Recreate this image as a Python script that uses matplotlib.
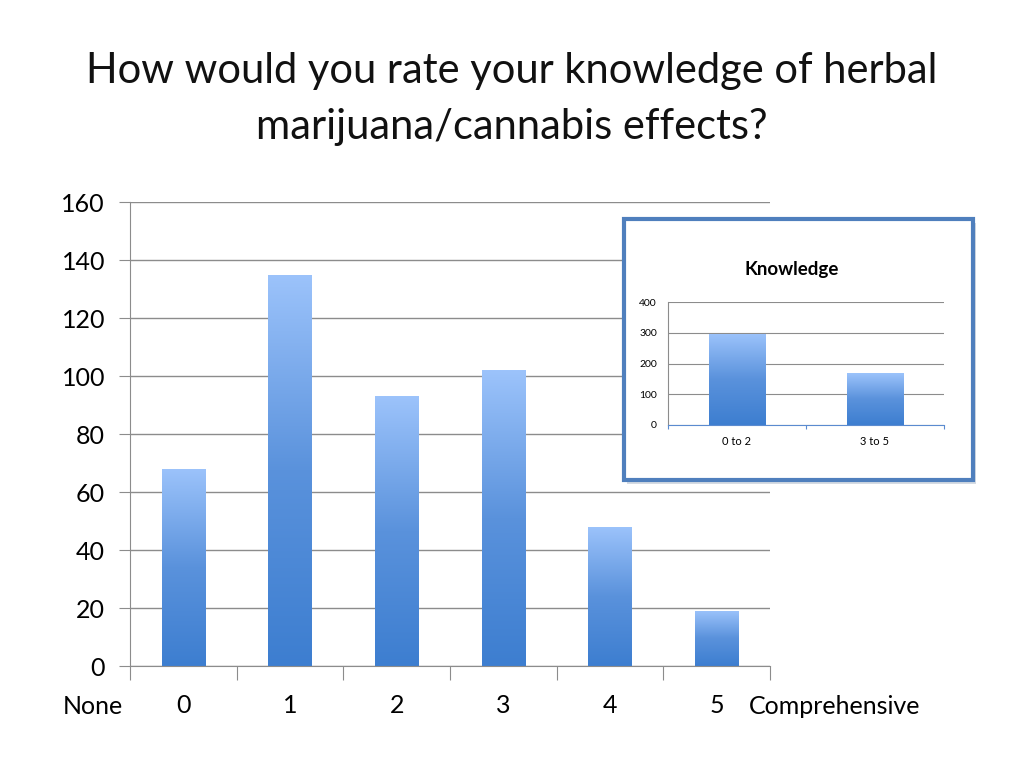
import matplotlib
matplotlib.use("Agg")
import matplotlib.pyplot as plt
import numpy as np
from matplotlib.patches import Rectangle
from matplotlib.colors import LinearSegmentedColormap

plt.rcParams['font.family'] = ['Lato', 'DejaVu Sans']

# Data
ratings = ["0", "1", "2", "3", "4", "5"]
counts = [68, 135, 93, 102, 48, 19]
group_labels = ["0 to 2", "3 to 5"]
group_counts = [296, 169]
main_yticks = [0, 20, 40, 60, 80, 100, 120, 140, 160]
inset_yticks = [0, 100, 200, 300, 400]

title = "How would you rate your knowledge of herbal\nmarijuana/cannabis effects?"

cmap = LinearSegmentedColormap.from_list("bargrad", ["#3d7ed0", "#5a92dc", "#9cc3fb"])
grid_color = "#8c8c8c"


def gradient_bars(ax, bars):
    grad = np.linspace(0, 1, 256).reshape(-1, 1)
    for b in bars:
        x0, y0 = b.get_x(), b.get_y()
        w, h = b.get_width(), b.get_height()
        b.set_facecolor("none")
        b.set_edgecolor("none")
        im = ax.imshow(grad, extent=[x0, x0 + w, y0, y0 + h], origin="lower",
                       cmap=cmap, aspect="auto", zorder=2, interpolation="bilinear")
        im.set_clip_path(b)


fig = plt.figure(figsize=(10.24, 7.68), dpi=100)
fig.patch.set_facecolor("white")

fig.text(0.5, 1 - 99 / 768, title, ha="center", va="center", fontsize=30, color="#111111",
         linespacing=1.55)

# Main axes
ax = fig.add_axes([0.127, 0.1328, 0.625, 0.604], zorder=0)
x = np.arange(len(ratings))
bars = ax.bar(x, counts, width=0.41, zorder=2)
ax.set_xlim(-0.5, len(ratings) - 0.5)
ax.set_ylim(0, 160)
gradient_bars(ax, bars)
ax.set_yticks(main_yticks)
ax.set_yticklabels([str(v) for v in main_yticks], fontsize=18)
ax.yaxis.grid(True, color=grid_color, linewidth=1)
ax.set_axisbelow(True)
ax.set_xticks(np.arange(-0.5, len(ratings), 1.0))
ax.set_xticklabels([])
ax.set_xticks(x, minor=True)
ax.set_xticklabels(ratings, minor=True, fontsize=18)
ax.tick_params(axis="x", which="major", length=10, color=grid_color, direction="out")
ax.tick_params(axis="x", which="minor", length=0, pad=20)
ax.tick_params(axis="y", length=8, color=grid_color, pad=10)
for s in ["top", "right"]:
    ax.spines[s].set_visible(False)
for s in ["left", "bottom"]:
    ax.spines[s].set_color(grid_color)
ax.set_facecolor("none")

fig.text(93 / 1024, 1 - 706 / 768, "None", ha="center", va="center", fontsize=18)
fig.text(835 / 1024, 1 - 706 / 768, "Comprehensive", ha="center", va="center", fontsize=18)

# Inset frame
frame = Rectangle((624 / 1024, 1 - 480 / 768), 349 / 1024, 261 / 768,
                  transform=fig.transFigure, facecolor="white", edgecolor="#4f7fbd",
                  linewidth=3, zorder=1)
shadow = Rectangle((627 / 1024, 1 - 484 / 768), 349 / 1024, 261 / 768,
                   transform=fig.transFigure, facecolor="#d5dbe3", edgecolor="none",
                   zorder=0.9)
fig.patches.append(shadow)
fig.patches.append(frame)

fig.text(792 / 1024, 1 - 270 / 768, "Knowledge", ha="center", va="center",
         fontsize=13.5, fontweight="bold", zorder=3)

ax2 = fig.add_axes([668 / 1024, 1 - 425 / 768, 276 / 1024, 123 / 768], zorder=2)
x2 = np.arange(len(group_labels))
bars2 = ax2.bar(x2, group_counts, width=0.41, zorder=2)
ax2.set_xlim(-0.5, len(group_labels) - 0.5)
ax2.set_ylim(0, 400)
gradient_bars(ax2, bars2)
ax2.set_yticks(inset_yticks)
ax2.set_yticklabels([str(v) for v in inset_yticks], fontsize=7.5)
ax2.yaxis.grid(True, color=grid_color, linewidth=0.8)
ax2.set_axisbelow(True)
ax2.set_xticks(np.arange(-0.5, len(group_labels), 1.0))
ax2.set_xticklabels([])
ax2.set_xticks(x2, minor=True)
ax2.set_xticklabels(group_labels, minor=True, fontsize=8)
ax2.tick_params(axis="x", which="major", length=3, color="#5b8bd0", direction="out")
ax2.tick_params(axis="x", which="minor", length=0, pad=8)
ax2.tick_params(axis="y", length=0, pad=8)
for s in ["top", "right"]:
    ax2.spines[s].set_visible(False)
ax2.spines["left"].set_color(grid_color)
ax2.spines["bottom"].set_color("#5b8bd0")
ax2.set_facecolor("none")

fig.savefig("out.png", dpi=100, facecolor="white")
